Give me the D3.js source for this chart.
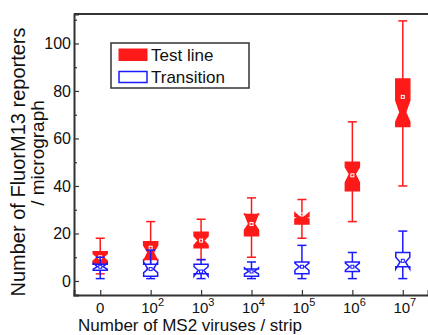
<!DOCTYPE html>
<html>
<head>
<meta charset="utf-8">
<script src="https://cdn.jsdelivr.net/npm/d3@7"></script>
<style>
    body { margin: 0; background: #fff; }
    svg text { font-family: "Liberation Sans", Arial, Helvetica, sans-serif; fill: #111; }
</style>
</head>
<body>
<div id="svg_container"></div>
<script>
// categories: exponent of the number of MS2 viruses (null = 0)
const exponents = [null, 2, 3, 4, 5, 6, 7];

// Test line (red, filled) box statistics
const testLow = [3, 5, 9, 10, 18, 25, 40];
const testQ1 = [7, 9, 14, 19, 24, 38, 65];
const testMedian = [10, 12, 17, 24, 27, 45, 71];
const testQ3 = [12.3, 16.5, 20.5, 28, 27.2, 50, 85];
const testHigh = [18, 25, 26, 35, 34.3, 67, 109.5];
const testNotchLo = [8.5, 8.5, 15, 21.5, 26, 41.5, 67];
const testNotchHi = [11.5, 15, 19, 28.5, 28.6, 48, 76];
const testMean = [10, 14, 17, 24, 28, 44.5, 77.5];

// Transition (blue, open) box statistics
const transLow = [1, 1, 1, 1, 1, 1, 1];
const transQ1 = [4.5, 2, 3, 2, 3, 4, 6];
const transMedian = [6, 5, 4.5, 4, 6, 6, 8];
const transQ3 = [7, 7, 7, 5, 8, 8, 12];
const transHigh = [10, 13, 9, 8, 15, 12, 21];
const transNotchLo = [5, 3.5, 2, 3, 4.5, 4.5, 5];
const transNotchHi = [7.5, 8, 6, 5.5, 7.5, 7.5, 10];
const transMean = [6, 5, 4, 4, 6, 6, 8.5];

const yMajorTicks = [0, 20, 40, 60, 80, 100];
const yMinorTicks = [10, 30, 50, 70, 90, 110];

function createChart() {
    let width = 428;
    let height = 335;
    const svg = d3.select('#svg_container').append("svg")
        .attr("width", width)
        .attr("height", height);

    const left = 74, right = 428, top = 14, bottom = 295;

    const x = d3.scaleLinear().domain([-0.52, 6.5]).range([left, right]);
    const y = d3.scaleLinear().domain([-5.9, 112.4]).range([bottom, top]);

    // build rows for each series
    function rows(low, q1, med, q3, high, nlo, nhi, mean) {
        return exponents.map((e, i) => ({
            i: i, low: low[i], q1: q1[i], med: med[i], q3: q3[i],
            high: high[i], nlo: nlo[i], nhi: nhi[i], mean: mean[i]
        }));
    }
    const testData = rows(testLow, testQ1, testMedian, testQ3, testHigh, testNotchLo, testNotchHi, testMean);
    const transData = rows(transLow, transQ1, transMedian, transQ3, transHigh, transNotchLo, transNotchHi, transMean);

    const boxHalf = 7, notchHalf = 2.8, capHalf = 4.5;

    function notchPath(d) {
        let cx = x(d.i);
        let pts = [
            [cx - boxHalf, y(d.q3)],
            [cx - boxHalf, y(d.nhi)],
            [cx - notchHalf, y(d.med)],
            [cx - boxHalf, y(d.nlo)],
            [cx - boxHalf, y(d.q1)],
            [cx + boxHalf, y(d.q1)],
            [cx + boxHalf, y(d.nlo)],
            [cx + notchHalf, y(d.med)],
            [cx + boxHalf, y(d.nhi)],
            [cx + boxHalf, y(d.q3)]
        ];
        return d3.line()(pts) + "Z";
    }

    function drawSeries(data, color, fill, meanStroke) {
        const g = svg.append("g");
        // whiskers
        g.selectAll(".whisker")
            .data(data)
            .join("line")
            .attr("x1", d => x(d.i)).attr("x2", d => x(d.i))
            .attr("y1", d => y(d.low)).attr("y2", d => y(d.high))
            .attr("stroke", color).attr("stroke-width", 1.5);
        g.selectAll(".capHigh")
            .data(data)
            .join("line")
            .attr("x1", d => x(d.i) - capHalf).attr("x2", d => x(d.i) + capHalf)
            .attr("y1", d => y(d.high)).attr("y2", d => y(d.high))
            .attr("stroke", color).attr("stroke-width", 1.5);
        g.selectAll(".capLow")
            .data(data)
            .join("line")
            .attr("x1", d => x(d.i) - capHalf).attr("x2", d => x(d.i) + capHalf)
            .attr("y1", d => y(d.low)).attr("y2", d => y(d.low))
            .attr("stroke", color).attr("stroke-width", 1.5);
        // notched boxes
        g.selectAll("path")
            .data(data)
            .join("path")
            .attr("d", notchPath)
            .attr("fill", fill)
            .attr("stroke", color)
            .attr("stroke-width", 1.5)
            .attr("stroke-linejoin", "miter");
        // mean markers
        g.selectAll("rect")
            .data(data)
            .join("rect")
            .attr("x", d => x(d.i) - 1.5)
            .attr("y", d => y(d.mean) - 1.5)
            .attr("width", 3).attr("height", 3)
            .attr("fill", "none")
            .attr("stroke", meanStroke)
            .attr("stroke-width", 1);
    }

    drawSeries(testData, "#ff1a1a", "#ff1a1a", "#ffffff");
    drawSeries(transData, "#1a1aff", "#ffffff", "#1a1aff");

    // top frame line
    svg.append("line")
        .attr("x1", left).attr("x2", right + 5).attr("y1", top).attr("y2", top)
        .attr("stroke", "#333").attr("stroke-width", 2);

    // y axis
    const yAxis = svg.append("g")
        .attr("transform", `translate(${left},0)`)
        .call(d3.axisLeft(y).tickValues(yMajorTicks).tickSize(-5).tickPadding(3));
    svg.append("g")
        .attr("transform", `translate(${left},0)`)
        .call(d3.axisLeft(y).tickValues(yMinorTicks).tickSize(-3).tickFormat(""))
        .call(g => g.select(".domain").remove());
    yAxis.select(".domain").attr("stroke", "#333").attr("stroke-width", 2);
    yAxis.selectAll("text").attr("font-size", 16).attr("fill", "#111");

    // x axis
    const xAxis = svg.append("g")
        .attr("transform", `translate(0,${bottom})`)
        .call(d3.axisBottom(x).tickValues(d3.range(exponents.length)).tickSize(-5).tickFormat(""));
    xAxis.select(".domain").attr("stroke", "#333").attr("stroke-width", 2);
    svg.selectAll(".tick line").attr("stroke", "#333").attr("stroke-width", 1.2);

    const xLabels = svg.append("g").attr("font-size", 15);
    xLabels.selectAll("text")
        .data(exponents)
        .join("text")
        .attr("x", (e, i) => x(i) + (e === null ? 0 : 2))
        .attr("y", bottom + 18)
        .attr("text-anchor", "middle")
        .each(function (e) {
            const t = d3.select(this);
            if (e === null) {
                t.text("0");
            } else {
                t.append("tspan").text("10");
                t.append("tspan").attr("font-size", 11).attr("dy", -7).text(e);
            }
        });

    // axis titles
    svg.append("text")
        .attr("x", 190)
        .attr("y", 331)
        .attr("text-anchor", "middle")
        .attr("font-size", 17)
        .text("Number of MS2 viruses / strip");

    svg.append("text")
        .attr("transform", "translate(25,162) rotate(-90)")
        .attr("text-anchor", "middle")
        .attr("font-size", 20)
        .text("Number of FluorM13 reporters");
    svg.append("text")
        .attr("transform", "translate(44,153) rotate(-90)")
        .attr("text-anchor", "middle")
        .attr("font-size", 19)
        .text("/ micrograph");

    // legend
    const legend = svg.append("g");
    legend.append("rect")
        .attr("x", 111).attr("y", 43).attr("width", 138).attr("height", 45)
        .attr("fill", "#fff").attr("stroke", "#333").attr("stroke-width", 1.5);
    legend.append("rect")
        .attr("x", 119).attr("y", 49).attr("width", 28).attr("height", 11.5)
        .attr("fill", "#ff1a1a").attr("stroke", "#ff1a1a");
    legend.append("rect")
        .attr("x", 119).attr("y", 71.5).attr("width", 28).attr("height", 11)
        .attr("fill", "#fff").attr("stroke", "#1a1aff").attr("stroke-width", 1.5);
    legend.append("text").attr("x", 151).attr("y", 60.5).attr("font-size", 17).text("Test line");
    legend.append("text").attr("x", 151).attr("y", 83).attr("font-size", 17).text("Transition");
}

document.addEventListener('DOMContentLoaded', function (e) {
    createChart();
});
</script>
</body>
</html>
